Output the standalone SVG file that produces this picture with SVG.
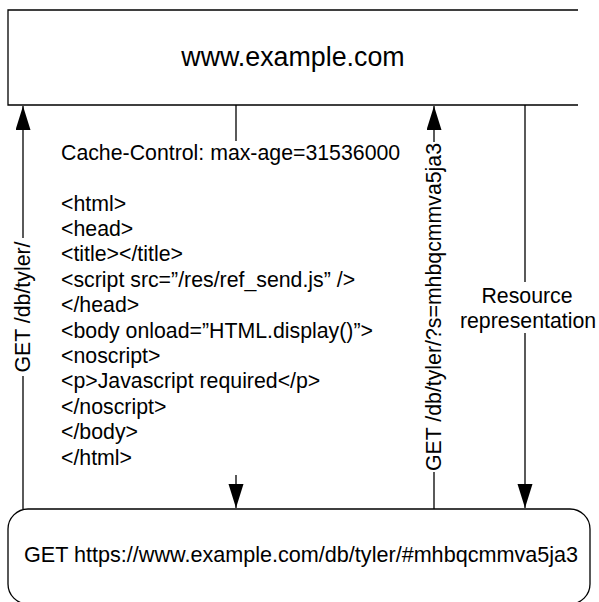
<svg xmlns="http://www.w3.org/2000/svg" width="599" height="602" viewBox="0 0 599 602">
<style>
text{font-family:"Liberation Sans",Arial,sans-serif;fill:#000;font-size:21.3px}
.ln{stroke:#000;stroke-width:1.3;fill:none}
.box{stroke:#000;stroke-width:1.3;fill:#fff}
</style>
<defs>
<marker id="ah" markerWidth="24" markerHeight="16" refX="24" refY="7.5" orient="auto" markerUnits="userSpaceOnUse">
<path d="M0,0 L24,7.5 L0,15 Z" fill="#000"/>
</marker>
</defs>
<rect width="599" height="602" fill="#fff"/>
<g id="server">
<path class="box" d="M578,10 H8 V105 H578"/>
<text x="293" y="66" text-anchor="middle" style="font-size:26.8px">www.example.com</text>
</g>
<g id="client">
<rect class="box" x="8" y="509" width="582" height="95" rx="20" ry="20"/>
<text x="24" y="562" style="font-size:21.6px">GET https://www.example.com/db/tyler/#mhbqcmmva5ja3</text>
</g>
<g id="connectors">
<line class="ln" x1="23" y1="509" x2="23" y2="376"/>
<line class="ln" x1="23" y1="238" x2="23" y2="106" marker-end="url(#ah)"/>
<text transform="translate(30,307) rotate(-90)" text-anchor="middle">GET /db/tyler/</text>

<line class="ln" x1="236" y1="105" x2="236" y2="141"/>
<line class="ln" x1="236" y1="475" x2="236" y2="508" marker-end="url(#ah)"/>

<line class="ln" x1="434" y1="509" x2="434" y2="472"/>
<line class="ln" x1="434" y1="142" x2="434" y2="106" marker-end="url(#ah)"/>
<text transform="translate(441,307) rotate(-90)" text-anchor="middle">GET /db/tyler/?s=mhbqcmmva5ja3</text>

<line class="ln" x1="525" y1="105" x2="525" y2="282"/>
<line class="ln" x1="525" y1="333" x2="525" y2="508" marker-end="url(#ah)"/>
<text x="527" y="303" text-anchor="middle">Resource</text>
<text x="528" y="328" text-anchor="middle">representation</text>
</g>
<g id="payload">
<text x="61" y="159.5">Cache-Control: max-age=31536000</text>
<text x="61" y="210.5">&lt;html&gt;</text>
<text x="61" y="235.9">&lt;head&gt;</text>
<text x="61" y="261.3">&lt;title&gt;&lt;/title&gt;</text>
<text x="61" y="286.7">&lt;script src=”/res/ref_send.js” /&gt;</text>
<text x="61" y="312.1">&lt;/head&gt;</text>
<text x="61" y="337.5">&lt;body onload=”HTML.display()”&gt;</text>
<text x="61" y="362.9">&lt;noscript&gt;</text>
<text x="61" y="388.3">&lt;p&gt;Javascript required&lt;/p&gt;</text>
<text x="61" y="413.7">&lt;/noscript&gt;</text>
<text x="61" y="439.1">&lt;/body&gt;</text>
<text x="61" y="464.5">&lt;/html&gt;</text>
</g>
</svg>
